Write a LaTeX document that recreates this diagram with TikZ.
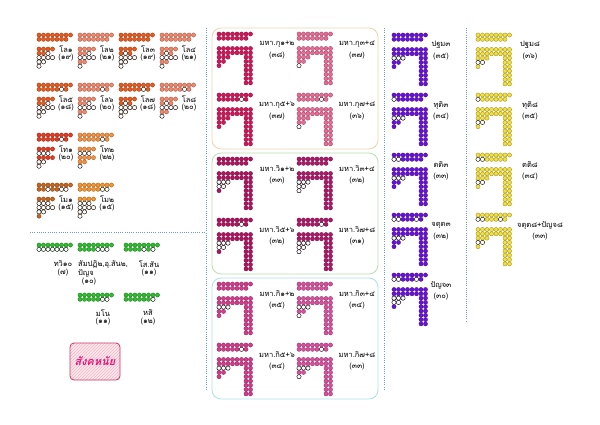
\documentclass[tikz,border=0pt]{standalone}
\usepackage{fontspec}
\newfontfamily\thai[Script=Thai]{Loma}
\usetikzlibrary{patterns}
\definecolor{oD}{HTML}{EA5A1C}
\definecolor{oL}{HTML}{F4876A}
\definecolor{oR}{HTML}{E63A1E}
\definecolor{oP}{HTML}{F6923F}
\definecolor{oB}{HTML}{C8651C}
\definecolor{oO}{HTML}{F7952B}
\definecolor{gr}{HTML}{2DBE2D}
\definecolor{kA}{HTML}{D5145A}
\definecolor{kB}{HTML}{EC6B96}
\definecolor{vA}{HTML}{B2125F}
\definecolor{vB}{HTML}{B0176A}
\definecolor{rA}{HTML}{D63A8C}
\definecolor{rB}{HTML}{DC4FA0}
\definecolor{pu}{HTML}{6A10DE}
\definecolor{ye}{HTML}{F3E03B}
\definecolor{bxA}{HTML}{E9D5B0}
\definecolor{bxB}{HTML}{B9DFB0}
\definecolor{bxC}{HTML}{AEE0E4}
\definecolor{dl}{HTML}{6C9BD0}
\definecolor{sgB}{HTML}{D0345E}
\definecolor{sgF}{HTML}{FDEBF0}
\definecolor{sgH}{HTML}{F5B5C5}
\definecolor{sgT}{HTML}{E8157A}
\def\px{4.5}
\def\py{4.3}
\newcommand\DotF[3]{\filldraw[fill=#3,draw=#3!60!black,line width=0.3pt] (#1,#2) circle[radius=2.1pt];}
\newcommand\DotW[2]{\filldraw[fill=white,draw=black,line width=0.35pt] (#1,#2) circle[radius=2.1pt];}
\newcommand\BarD[4]{%
 \foreach \c in {0,...,7}{\DotF{#1+\c*\px}{#2}{#3}}%
 \foreach \c in {0,...,6}{\DotF{#1+\c*\px}{#2+\py}{#3}}%
 \foreach \c in {#4}{\ifnum\c>-1 \DotW{#1+\c*\px}{#2+\py}\fi}%
}
\newcommand\AkLow[4]{%
 \foreach \c/\r in {0/0,1/0,2/0,3/0,0/1,1/1,2/1,0/2,1/2,2/2,3/2,0/3,1/3,0/4}{\DotF{#1+\c*\px}{#2+14+\r*\py}{#3}}%
 \foreach \c/\r in {#4}{\ifnum\c>-1 \DotW{#1+\c*\px}{#2+14+\r*\py}\fi}%
}
\newcommand\HookD[4]{%
 \foreach \c in {0,...,7}{\DotF{#1+\c*\px}{#2+14.5}{#3}\DotF{#1+\c*\px}{#2+14.5+\py}{#3}}%
 \foreach \r in {2,...,8}{\DotF{#1+6*\px}{#2+14.5+\r*\py}{#3}\DotF{#1+7*\px}{#2+14.5+\r*\py}{#3}}%
 \foreach \c/\r in {0/2,1/2,2/2,0/3,1/3,0/4}{\DotF{#1+\c*\px}{#2+14.5+\r*\py}{#3}}%
 \foreach \c/\r in {#4}{\ifnum\c>-1 \DotW{#1+\c*\px}{#2+14.5+\r*\py}\fi}%
}
\newcommand\AkItem[8]{%
 \BarD{#2}{#3}{#4}{#5}%
 \AkLow{#2}{#3}{#4}{#6}%
 \node[lbl] (#1a) at (#2+27,#3+14) {#7};%
 \node[lbl] (#1b) at (#2+27,#3+23) {#8};%
}
\newcommand\HkItem[9]{%
 \BarD{#2}{#3}{#4}{#5}%
 \HookD{#2}{#3}{#4}{#6}%
 \node[lbl] (#1a) at (#9,#3+10) {#7};%
 \node[lbl] (#1b) at (#9,#3+22) {#8};%
}
\tikzset{
 lbl/.style={font=\thai\fontsize{7.5}{8}\selectfont, inner sep=0pt},
 dots/.style={dl, line width=0.6pt, dash pattern=on 1pt off 1.2pt},
 grpbox/.style={rounded corners=9pt, line width=0.8pt}
}
\begin{document}
\begin{tikzpicture}[x=1pt,y=-1pt]
\useasboundingbox (0,0) rectangle (600,424);
\fill[white] (0,0) rectangle (600,424);
% separators
\draw[dots] (30,232) -- (206,232);
\draw[dots] (206,28) -- (206,390);
\draw[dots] (384,28) -- (384,390);
\draw[dots] (466,28) -- (466,322);
% boxes
\draw[grpbox, bxA] (212,28) rectangle (378,149);
\draw[grpbox, bxB] (212,153) rectangle (378,274);
\draw[grpbox, bxC] (212,278) rectangle (378,399);
% akusala
\AkItem{l1}{39}{35}{oD}{-1}{2/1,0/2,1/2,2/2,3/2,0/3,1/3,0/4}{โล๑}{(๑๙)}
\AkItem{l2}{80}{35}{oL}{-1}{2/1,0/2,1/2,2/2,3/2,0/4}{โล๒}{(๒๑)}
\AkItem{l3}{121}{35}{oD}{-1}{1/1,0/2,1/2,2/2,3/2,0/3,1/3,0/4}{โล๓}{(๑๙)}
\AkItem{l4}{162}{35}{oL}{-1}{1/1,0/2,1/2,2/2,3/2,0/4}{โล๔}{(๒๑)}
\AkItem{l5}{39}{85}{oD}{5}{2/1,0/2,1/2,2/2,3/2,0/3,1/3,0/4}{โล๕}{(๑๘)}
\AkItem{l6}{80}{85}{oL}{5}{2/1,0/2,1/2,2/2,3/2,0/4}{โล๖}{(๒๐)}
\AkItem{l7}{121}{85}{oD}{5}{1/1,0/2,1/2,2/2,3/2,0/3,1/3,0/4}{โล๗}{(๑๘)}
\AkItem{l8}{162}{85}{oL}{5}{1/1,0/2,1/2,2/2,3/2,0/4}{โล๘}{(๒๐)}
\AkItem{t1}{39}{135}{oR}{5}{0/1,1/1,2/1,0/3,1/3,0/4}{โท๑}{(๒๐)}
\AkItem{t2}{80}{135}{oP}{5}{0/1,1/1,2/1,0/4}{โท๒}{(๒๒)}
\AkItem{m1}{39}{185}{oB}{2,5,6}{0/1,1/1,2/1,0/2,1/2,2/2,3/2,0/3,1/3}{โม๑}{(๑๕)}
\AkItem{m2}{80}{185}{oO}{5,6}{0/1,1/1,2/1,0/2,1/2,2/2,3/2,0/3,1/3,0/4}{โม๒}{(๑๕)}
% ahetuka
\BarD{39}{245}{gr}{0,...,6}
\node[lbl] (a1a) at (63,264) {ทวิ๑๐};
\node[lbl] (a1b) at (63,273) {(๗)};
\BarD{80}{245}{gr}{4,5,6}
\node[lbl, anchor=west] (a2a) at (78,264) {สัมปฏิ๒,อุ.สัน๒,};
\node[lbl, anchor=west] (a2b) at (78,273) {ปัญจ};
\node[lbl] (a2c) at (89,282) {(๑๐)};
\BarD{126}{245}{gr}{4,6}
\node[lbl] (a3a) at (149,264) {โส.สัน};
\node[lbl] (a3b) at (149,273) {(๑๑)};
\BarD{80}{295}{gr}{5,6}
\node[lbl] (a4a) at (103,313) {มโน};
\node[lbl] (a4b) at (103,322) {(๑๑)};
\BarD{126}{295}{gr}{6}
\node[lbl] (a5a) at (148,313) {หสิ};
\node[lbl] (a5b) at (148,322) {(๑๒)};
% sangaha box
\fill[sgF, rounded corners=4pt] (70,343) rectangle (120,380);
\path[pattern=north east lines, pattern color=sgH, rounded corners=4pt] (70,343) rectangle (120,380);
\draw[sgB, line width=0.8pt, rounded corners=4pt] (70,343) rectangle (120,380);
\node[font=\thai\bfseries\itshape\fontsize{11}{12}\selectfont, text=sgT, inner sep=0pt] (sg) at (95,361) {สังคหนัย};
% maha kusala
\HkItem{k1}{219}{34}{kA}{-1}{-1/-1}{มหา.กุ๑+๒}{(๓๘)}{277}
\HkItem{k2}{299}{34}{kB}{-1}{0/4}{มหา.กุ๓+๔}{(๓๗)}{357}
\HkItem{k3}{219}{95}{kA}{5}{-1/-1}{มหา.กุ๕+๖}{(๓๗)}{277}
\HkItem{k4}{299}{95}{kB}{5}{0/4}{มหา.กุ๗+๘}{(๓๖)}{357}
% maha vipaka
\HkItem{v1}{219}{159}{vA}{-1}{0/2,1/2,2/2,0/3,1/3}{มหา.วิ๑+๒}{(๓๓)}{277}
\HkItem{v2}{299}{159}{vB}{-1}{0/2,1/2,2/2,0/3,1/3,0/4}{มหา.วิ๓+๔}{(๓๒)}{357}
\HkItem{v3}{219}{220}{vA}{5}{0/2,1/2,2/2,0/3,1/3}{มหา.วิ๕+๖}{(๓๒)}{277}
\HkItem{v4}{299}{220}{vB}{5}{0/2,1/2,2/2,0/3,1/3,0/4}{มหา.วิ๗+๘}{(๓๑)}{357}
% maha kiriya
\HkItem{r1}{219}{284}{rA}{-1}{0/2,1/2,2/2}{มหา.กิ๑+๒}{(๓๕)}{277}
\HkItem{r2}{299}{284}{rB}{-1}{0/2,1/2,2/2,0/4}{มหา.กิ๓+๔}{(๓๔)}{357}
\HkItem{r3}{219}{345}{rA}{5}{0/2,1/2,2/2}{มหา.กิ๕+๖}{(๓๔)}{277}
\HkItem{r4}{299}{345}{rB}{5}{0/2,1/2,2/2,0/4}{มหา.กิ๗+๘}{(๓๓)}{357}
% rupa jhana
\HkItem{p1}{394}{35}{pu}{-1}{0/2,1/2,2/2}{ปฐม๓}{(๓๕)}{441}
\HkItem{p2}{394}{95}{pu}{0}{0/2,1/2,2/2}{ทุติ๓}{(๓๔)}{441}
\HkItem{p3}{394}{155}{pu}{0,1}{0/2,1/2,2/2}{ตติ๓}{(๓๓)}{441}
\HkItem{p4}{394}{215}{pu}{0,1,5}{0/2,1/2,2/2}{จตุต๓}{(๓๒)}{441}
\HkItem{p5}{394}{275}{pu}{0,1,5}{0/2,1/2,2/2,0/3,1/3}{ปัญจ๓}{(๓๐)}{441}
% lokuttara
\HkItem{y1}{478}{35}{ye}{-1}{0/3,1/3}{ปฐม๘}{(๓๖)}{530}
\HkItem{y2}{478}{95}{ye}{0}{0/3,1/3}{ทุติ๘}{(๓๕)}{530}
\HkItem{y3}{478}{155}{ye}{0,1}{0/3,1/3}{ตติ๘}{(๓๔)}{530}
\HkItem{y4}{478}{215}{ye}{0,1,5}{0/3,1/3}{จตุต๘+ปัญจ๘}{(๓๓)}{540}
\end{tikzpicture}
\end{document}
